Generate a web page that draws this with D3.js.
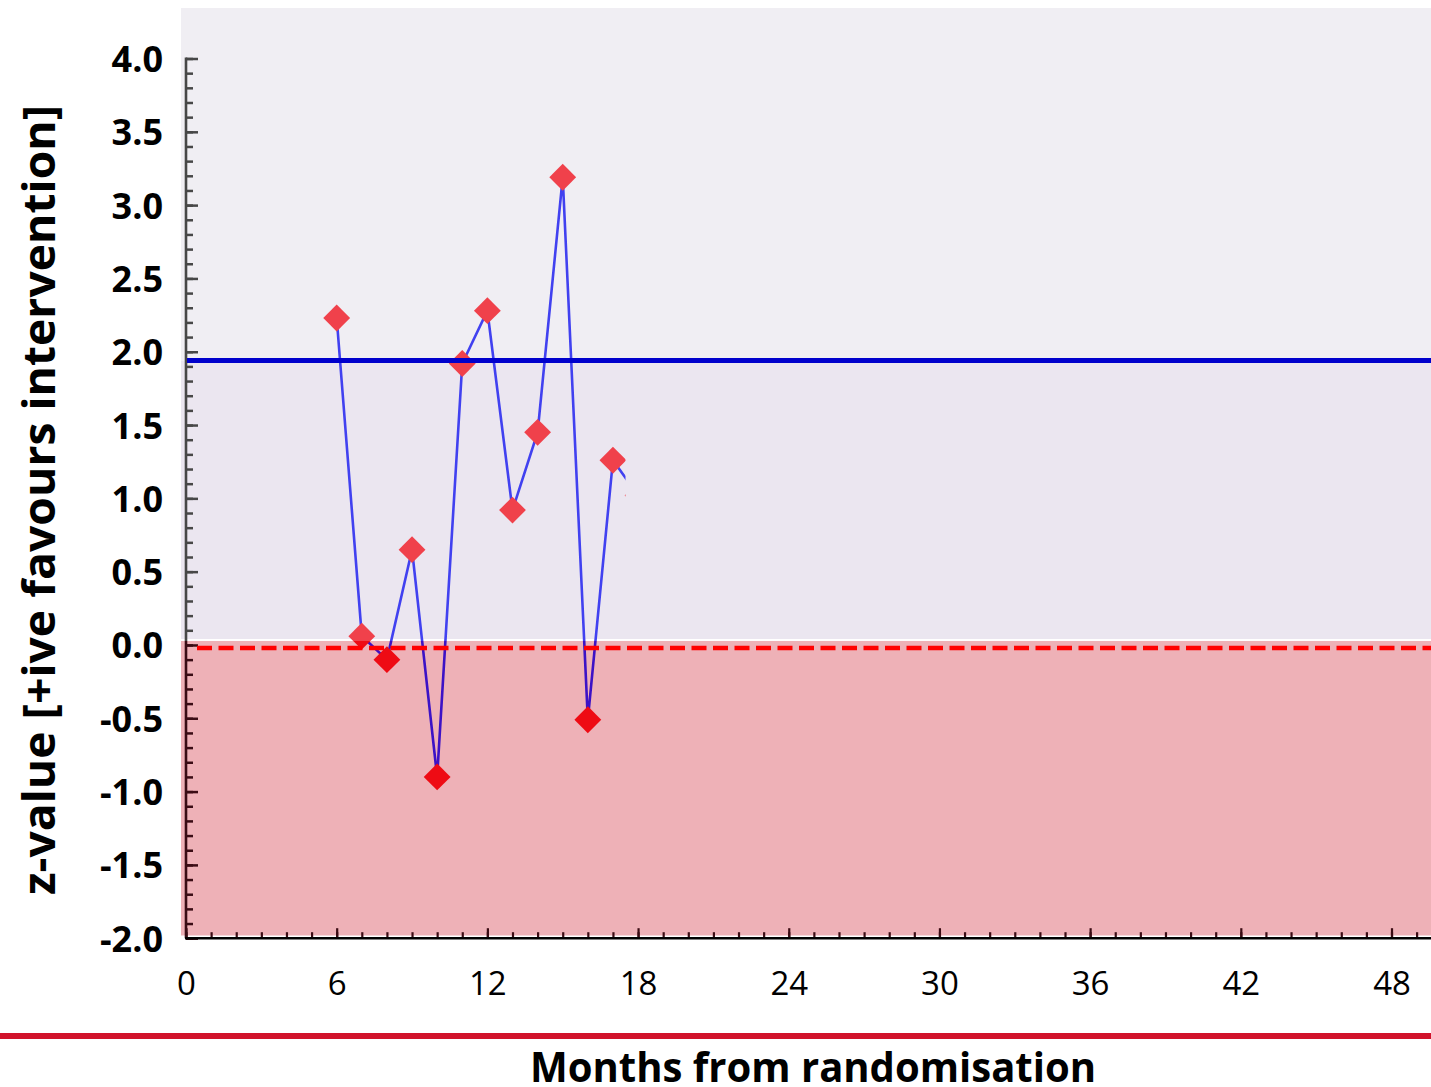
<!DOCTYPE html>
<html><head><meta charset="utf-8">
<script src="https://cdn.jsdelivr.net/npm/d3@7"></script>
<style>body{margin:0;background:#fff}</style>
</head><body><svg id="c" width="1431" height="1087"></svg>
<script>
const months = [6,7,8,9,10,11,12,13,14,15,16,17,18];
const zValues = [2.23,0.06,-0.10,0.65,-0.90,1.92,2.28,0.92,1.45,3.19,-0.51,1.26,1.02];
const boundaryZ = 1.94;
const nullZ = -0.02;
const revealMonth = 17.5;
const xTickValues = [0,6,12,18,24,30,36,42,48];
const xMinorValues = d3.range(0,50,1);
const yTickValues = [-2,-1.5,-1,-0.5,0,0.5,1,1.5,2,2.5,3,3.5,4];
const yTickLabels = ["-2.0","-1.5","-1.0","-0.5","0.0","0.5","1.0","1.5","2.0","2.5","3.0","3.5","4.0"];
const yMinorValues = d3.range(-20,41,1).map(d=>d/10);
const xTitle = "Months from randomisation";
const yTitle = "z-value [+ive favours intervention]";

const W=1431,H=1087;
const svg = d3.select("#c");
const x = d3.scaleLinear().domain([0,48]).range([186,1391.5]);
const y = d3.scaleLinear().domain([-2,4]).range([938.2,58.5]);

const panelLeft = 181, panelTop = 8, splitZ = 0.027;
const splitY = y(splitZ), panelBottom = 935.5;

// backgrounds
svg.append("rect").attr("x",panelLeft).attr("y",panelTop).attr("width",W-panelLeft).attr("height",y(boundaryZ)-panelTop).attr("fill","#f0eef3");
svg.append("rect").attr("x",panelLeft).attr("y",y(boundaryZ)).attr("width",W-panelLeft).attr("height",splitY-2-y(boundaryZ)).attr("fill","#ebe6f0");
svg.append("rect").attr("x",panelLeft).attr("y",splitY).attr("width",W-panelLeft).attr("height",panelBottom-splitY).attr("fill","#eeb1b7");

const upperCol = "#474747", lowerCol = "#3a0c14";

// y axis minor
const gyMinor = svg.append("g").attr("transform",`translate(${x(0)},0)`)
  .call(d3.axisLeft(y).tickValues(yMinorValues).tickSizeInner(-7).tickSizeOuter(0).tickFormat(""));
const gyMajor = svg.append("g").attr("transform",`translate(${x(0)},0)`)
  .call(d3.axisLeft(y).tickValues(yTickValues).tickSizeInner(-12).tickSizeOuter(0).tickPadding(23)
    .tickFormat((d,i)=>yTickLabels[i]));
[gyMinor,gyMajor].forEach(g=>{
  g.select(".domain").remove();
  g.selectAll(".tick line").attr("stroke-width",2.5).attr("stroke",d=>d< splitZ?lowerCol:upperCol);
});
gyMajor.selectAll(".tick text").attr("font-family","'Open Sans'").attr("font-weight","bold").attr("font-size",36).attr("fill","#000").attr("dy","0.36em");
svg.append("line").attr("x1",x(0)).attr("x2",x(0)).attr("y1",y(4)-1).attr("y2",splitY).attr("stroke",upperCol).attr("stroke-width",2.6);
svg.append("line").attr("x1",x(0)).attr("x2",x(0)).attr("y1",splitY).attr("y2",y(-2)).attr("stroke",lowerCol).attr("stroke-width",2.6);

// x axis
const gxMinor = svg.append("g").attr("transform",`translate(0,${y(-2)})`)
  .call(d3.axisBottom(x).tickValues(xMinorValues).tickSizeInner(-6).tickSizeOuter(0).tickFormat(""));
const gxMajor = svg.append("g").attr("transform",`translate(0,${y(-2)})`)
  .call(d3.axisBottom(x).tickValues(xTickValues).tickSizeInner(-10).tickSizeOuter(0).tickPadding(33).tickFormat(d3.format("d")));
[gxMinor,gxMajor].forEach(g=>{
  g.select(".domain").remove();
  g.selectAll(".tick line").attr("stroke-width",2.2).attr("stroke",lowerCol);
});
gxMajor.selectAll(".tick text").attr("font-family","'Open Sans'").attr("font-size",33).attr("fill","#000");
svg.append("line").attr("x1",x(0)-1).attr("x2",W).attr("y1",y(-2)).attr("y2",y(-2)).attr("stroke","#000").attr("stroke-width",2.4);

// clip paths
const defs = svg.append("defs");
defs.append("clipPath").attr("id","clipUp").append("rect")
  .attr("x",0).attr("y",0).attr("width",x(revealMonth)).attr("height",splitY);
defs.append("clipPath").attr("id","clipDown").append("rect")
  .attr("x",0).attr("y",splitY).attr("width",x(revealMonth)).attr("height",H-splitY);

const pts = months.map((m,i)=>({m, z:zValues[i]}));
const lineGen = d3.line().x(d=>x(d.m)).y(d=>y(d.z));
const diamond = d3.symbol(d3.symbolSquare, 360);

[["clipUp","#4141f0","#f0414b"],["clipDown","#3c12c6","#ee0b14"]].forEach(([cid,lc,pc])=>{
  const g = svg.append("g").attr("clip-path",`url(#${cid})`);
  g.append("path").datum(pts).attr("d",lineGen).attr("fill","none").attr("stroke",lc).attr("stroke-width",2.6);
  g.selectAll("path.pt").data(pts).join("path").attr("class","pt")
    .attr("d",diamond).attr("transform",d=>`translate(${x(d.m)},${y(d.z)}) rotate(45)`).attr("fill",pc);
});

// reference lines
svg.append("line").attr("x1",x(0)+1).attr("x2",W).attr("y1",y(boundaryZ)).attr("y2",y(boundaryZ))
  .attr("stroke","#0000cc").attr("stroke-width",5);
svg.append("line").attr("x1",x(0)+11).attr("x2",W).attr("y1",y(nullZ)).attr("y2",y(nullZ))
  .attr("stroke","#ff0000").attr("stroke-width",4.5).attr("stroke-dasharray","15,6.5");

// bottom rule
svg.append("rect").attr("x",0).attr("y",1033).attr("width",W).attr("height",6).attr("fill","#d1132b");

// titles
svg.append("text").attr("x",813).attr("y",1082).attr("text-anchor","middle")
  .attr("font-family","'Open Sans'").attr("font-weight","bold").attr("font-size",42)
  .attr("textLength",566).attr("lengthAdjust","spacingAndGlyphs").attr("fill","#000").text(xTitle);
svg.append("text").attr("transform","translate(55,500) rotate(-90)").attr("text-anchor","middle")
  .attr("font-family","'Open Sans'").attr("font-weight","bold").attr("font-size",44)
  .attr("textLength",790).attr("lengthAdjust","spacingAndGlyphs").attr("fill","#000").text(yTitle);
</script></body></html>
